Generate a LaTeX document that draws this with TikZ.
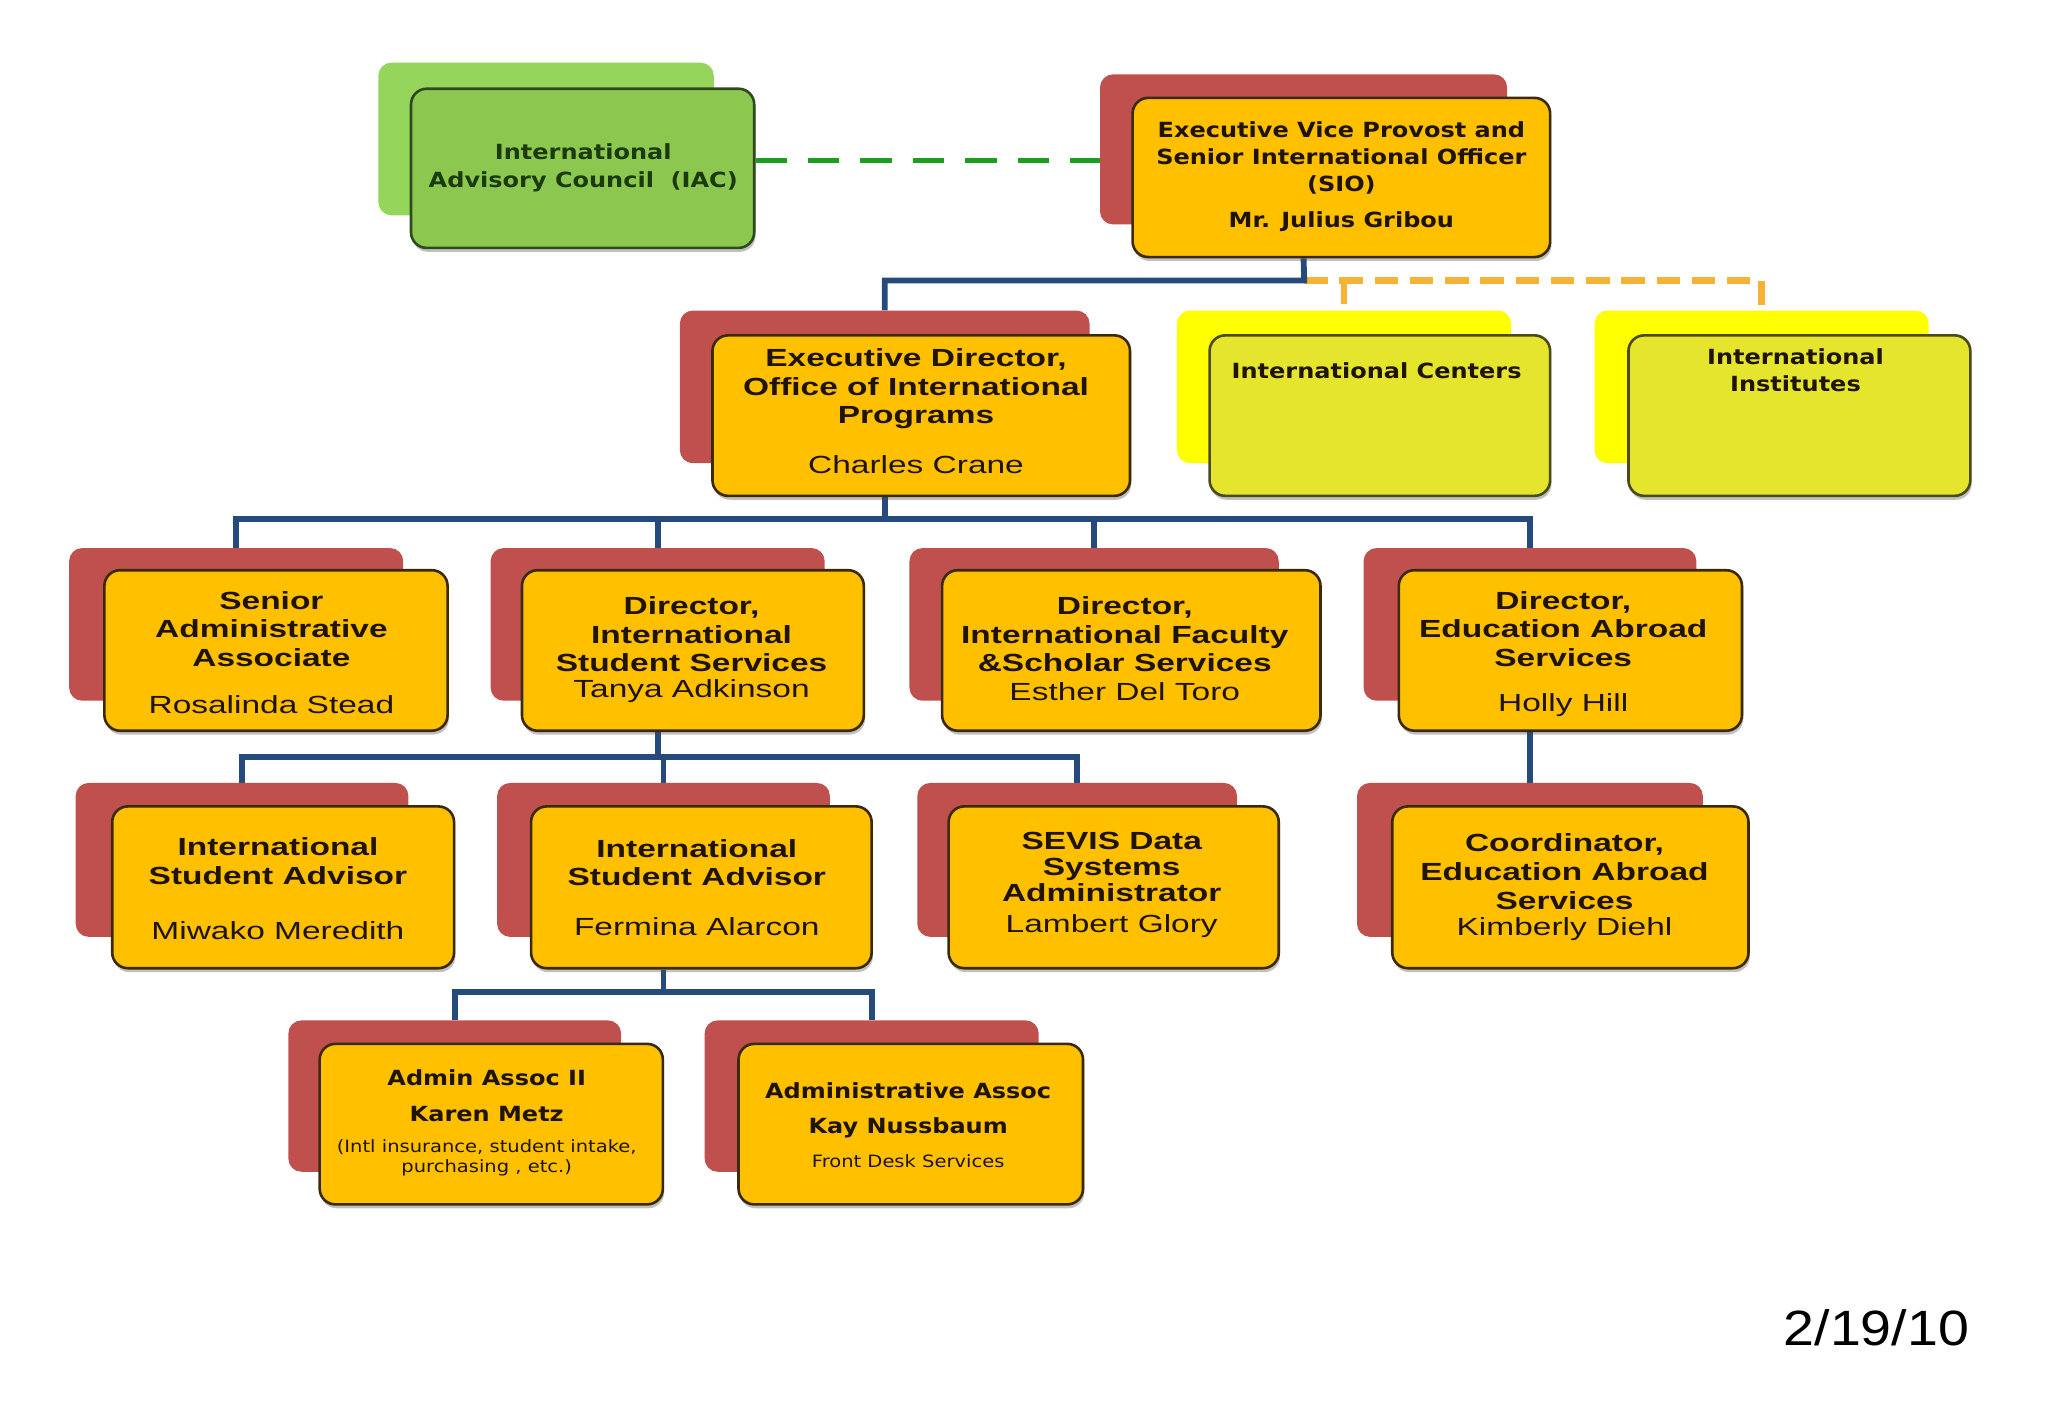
\documentclass[tikz,border=0pt]{standalone}
\usepackage{fontspec}
\usetikzlibrary{fit,shadows,calc}
\newfontfamily\tah[FakeStretch=1.15]{DejaVu Sans}
\newfontfamily\ari[FakeStretch=1.35]{Liberation Sans}
\newfontfamily\datef[FakeStretch=1.12]{Liberation Sans}
\definecolor{orangef}{HTML}{FFC000}
\definecolor{backred}{HTML}{C0504D}
\definecolor{borderc}{HTML}{3B2A0A}
\definecolor{greenf}{HTML}{8CC84F}
\definecolor{greenb}{HTML}{95D55B}
\definecolor{greenbd}{HTML}{2E4A1E}
\definecolor{greent}{HTML}{1B3A0E}
\definecolor{yelb}{HTML}{FFFF00}
\definecolor{yelf}{HTML}{E5E52E}
\definecolor{yelbd}{HTML}{4A4A1A}
\definecolor{connblue}{HTML}{254A7C}
\definecolor{gdashc}{HTML}{1E9E1E}
\definecolor{odashc}{HTML}{F5B335}
\definecolor{txtc}{HTML}{1F1400}
\pgfdeclarelayer{bg}
\pgfsetlayers{bg,main}
\tikzset{
  backbox/.style={fill=#1, draw=none, rounded corners=10pt, inner sep=0pt},
  frontbox/.style={fill=#1, draw=borderc, line width=2pt, rounded corners=12pt, inner sep=0pt,
    drop shadow={shadow xshift=1pt, shadow yshift=-3pt, opacity=0.35, fill=black!70}},
  redback/.style={backbox=backred},
  orfront/.style={frontbox=orangef},
  grback/.style={backbox=greenb},
  grfront/.style={frontbox=greenf, draw=greenbd},
  yeback/.style={backbox=yelb},
  yefront/.style={frontbox=yelf, draw=yelbd},
  ttl/.style={align=center, text=txtc, inner sep=0pt, font=\ari\bfseries\fontsize{19}{22}\selectfont},
  nm/.style={align=center, text=txtc, inner sep=0pt, font=\ari\fontsize{19}{22}\selectfont},
  tht/.style={align=center, text=txtc, inner sep=0pt, font=\tah\bfseries\fontsize{16}{21}\selectfont},
  small/.style={align=center, text=txtc, inner sep=0pt, font=\tah\fontsize{13}{15}\selectfont},
  conn/.style={draw=connblue, line width=4.5pt, line join=miter},
  gdash/.style={draw=gdashc, line width=4.5pt, dash pattern=on 24pt off 16.2pt},
  odash/.style={draw=odashc, line width=5pt, dash pattern=on 18pt off 9pt},
}
\newcommand\orgbox[5]{%
  \node[#2, fit={#4}] (#1b) {};
  \node[#3, fit={#5}] (#1) {};}
\begin{document}
\begin{tikzpicture}[x=1pt,y=-1pt]
\begin{pgfonlayer}{bg}
\path[use as bounding box, fill=white] (0,0) rectangle (1568,1087);
\end{pgfonlayer}

% boxes
\orgbox{iac}{grback}{grfront}{(290,48) (547,165)}{(315,68) (578,190)}
\orgbox{sio}{redback}{orfront}{(843,57) (1155,172)}{(868,75) (1188,197)}
\orgbox{ed}{redback}{orfront}{(521,238) (835,355)}{(546,257) (866,380)}
\orgbox{ic}{yeback}{yefront}{(902,238) (1158,355)}{(927,257) (1188,380)}
\orgbox{ii}{yeback}{yefront}{(1222,238) (1478,355)}{(1248,257) (1510,380)}
\orgbox{saa}{redback}{orfront}{(53,420) (309,537)}{(80,437) (343,560)}
\orgbox{diss}{redback}{orfront}{(376,420) (632,537)}{(400,437) (662,560)}
\orgbox{difss}{redback}{orfront}{(697,420) (980,537)}{(722,437) (1012,560)}
\orgbox{deas}{redback}{orfront}{(1045,420) (1300,537)}{(1072,437) (1335,560)}
\orgbox{isa}{redback}{orfront}{(58,600) (313,718)}{(86,618) (348,742)}
\orgbox{isb}{redback}{orfront}{(381,600) (636,718)}{(407,618) (668,742)}
\orgbox{sevis}{redback}{orfront}{(703,600) (948,718)}{(727,618) (980,742)}
\orgbox{coord}{redback}{orfront}{(1040,600) (1305,718)}{(1067,618) (1340,742)}
\orgbox{aa}{redback}{orfront}{(221,782) (476,898)}{(245,800) (508,923)}
\orgbox{ab}{redback}{orfront}{(540,782) (796,898)}{(566,800) (830,923)}

% texts
\node[tht, text=greent] (iac-t) at (447,128.5) {International\\Advisory Council\ \ (IAC)};
\node[tht] (sio-t) at (1028,121) {Executive Vice Provost and\\Senior International Officer\\(SIO)};
\node[tht] (sio-n) at (1028,170) {Mr. Julius Gribou};
\node[ttl] (ed-t) at (702,298) {Executive Director,\\Office of International\\Programs};
\node[nm] (ed-n) at (702,356) {Charles Crane};
\node[tht] (ic-t) at (1055,284) {International Centers};
\node[tht] (ii-t) at (1376,283.5) {International\\Institutes};
\node[ttl] (saa-t) at (208,482) {Senior\\Administrative\\Associate};
\node[nm] (saa-n) at (208,540) {Rosalinda Stead};
\node[ttl] (diss-t) at (530,486) {Director,\\International\\Student Services};
\node[nm] (diss-n) at (530,530) {Tanya Adkinson};
\node[ttl] (difss-t) at (862,486) {Director,\\International Faculty\\\&Scholar Services};
\node[nm] (difss-n) at (862,530) {Esther Del Toro};
\node[ttl] (deas-t) at (1198,482) {Director,\\Education Abroad\\Services};
\node[nm] (deas-n) at (1198,540) {Holly Hill};
\node[ttl] (isa-t) at (213,660) {International\\Student Advisor};
\node[nm] (isa-n) at (213,713) {Miwako Meredith};
\node[ttl] (isb-t) at (534,661) {International\\Student Advisor};
\node[nm] (isb-n) at (534,710) {Fermina Alarcon};
\node[ttl, font=\ari\bfseries\fontsize{19}{20}\selectfont] (sevis-t) at (852,664.5) {SEVIS Data\\Systems\\Administrator};
\node[nm] (sevis-n) at (852,710) {Lambert Glory};
\node[ttl] (coord-t) at (1199,668) {Coordinator,\\Education Abroad\\Services};
\node[nm] (coord-n) at (1199,712) {Kimberly Diehl};
\node[tht] (aa-t) at (373,826) {Admin Assoc II};
\node[tht] (aa-n) at (373,854) {Karen Metz};
\node[small] (aa-s) at (373,887.5) {(Intl insurance, student intake,\\purchasing , etc.)};
\node[tht] (ab-t) at (696,836) {Administrative Assoc};
\node[tht] (ab-n) at (696,864) {Kay Nussbaum};
\node[small] (ab-s) at (696,890) {Front Desk Services};
\node[font=\datef\fontsize{38}{40}\selectfont, anchor=base, inner sep=0pt] (date) at (1438,1031) {2/19/10};

% connectors
\coordinate (j1) at (999.5,215);
\coordinate (j2) at (678,398);
\coordinate (j3) at (504,580);
\coordinate (j4) at (508.5,760);
\begin{pgfonlayer}{bg}
\draw[gdash] ([yshift=6pt]iac.east) -- ([yshift=6pt]iac.east -| siob.west);
\draw[odash] (j1) -- (j1 -| iib.north) -- (iib.north);
\draw[odash] (j1 -| icb.north) -- (icb.north);
\draw[conn] (siob.south |- sio.south) -- (j1) -| (edb.north);
\draw[conn] (edb.south |- ed.south) -- (j2);
\draw[conn] (saab.north) |- (j2) -| (deasb.north);
\draw[conn] (dissb.north) -- (dissb.north |- j2);
\draw[conn] (difssb.north) -- (difssb.north |- j2);
\draw[conn] (dissb.south |- diss.south) -- (j3);
\draw[conn] (isab.north) |- (j3) -| (sevisb.north);
\draw[conn] (isbb.north) -- (isbb.north |- j3);
\draw[conn] (deasb.south |- deas.south) -- (coordb.north);
\draw[conn] (isbb.south |- isb.south) -- (j4);
\draw[conn] (aab.north) |- (j4) -| (abb.north);
\end{pgfonlayer}
\end{tikzpicture}
\end{document}
